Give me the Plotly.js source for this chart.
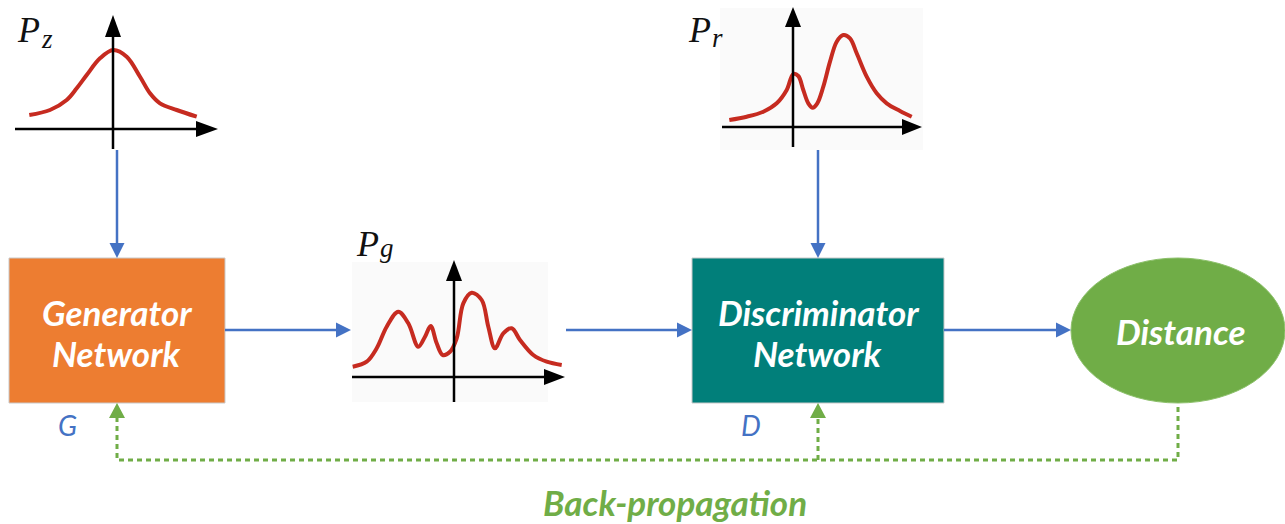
<!DOCTYPE html>
<html><head><meta charset="utf-8">
<script src="https://cdn.plot.ly/plotly-3.0.1.min.js"></script>
<style>html,body{margin:0;padding:0;background:#fff}#chart{width:1285px;height:524px}</style>
</head><body><div id="chart"></div><script>
// ---- data: curve samples (local units: x right of vertical axis, y above horizontal axis)
const pzX = [-83.7, -63, -46.3, -36.3, -26.3, -13, 0.3, 13.7, 27, 37, 47, 63.7, 83.7];
const pzY = [14, 19, 29, 40.7, 54, 70.7, 79, 72.3, 52.3, 35.7, 25.7, 19, 12.3];
const prX = [-63.7, -46.3, -29.7, -16.3, -6.3, 0.3, 5.3, 10.3, 15.3, 19.7, 24.3, 30.3, 37, 43.7, 50.3, 57, 63.7, 73.7, 83.7, 93.7, 107, 118.7];
const prY = [7, 10.3, 15.3, 23.7, 37, 53, 51, 37, 23.7, 19.3, 23.7, 40.3, 65.3, 85.3, 92, 88.7, 73.7, 50.3, 33.7, 23.7, 16, 10.3];
const pgX = [-101.3, -87.3, -77.3, -67.3, -55.7, -45.7, -35.7, -29, -23.3, -17.3, -11.3, -4, 2.7, 9.3, 17.7, 27.7, 34.3, 41, 49.3, 57.7, 66, 79.3, 92.7, 107.7];
const pgY = [10.3, 15.3, 28.7, 50.3, 65.3, 53.7, 30.3, 40.3, 51, 33.7, 22, 25.3, 38.7, 73.7, 84.3, 77, 50.3, 28.7, 43.7, 48.7, 37, 22, 15.3, 12];
const boxLabels = ["Generator", "Network", "Discriminator", "Network"];
const nodeLabels = ["Distance", "G", "D", "Back-propagation"];
const distNames = ["P", "z", "r", "g"];

// ---- layout helpers
const W = 1285, H = 524;
const ORANGE = '#ED7D31', TEAL = '#017F7A', GREEN = '#70AD47', BLUE = '#4472C4', RED = '#C62B20';
const SANS = 'Lato, "Open Sans", sans-serif';
const SERIF = '"Liberation Serif", "DejaVu Serif", serif';

function tri(tx, ty, dir, len, hw) {
  if (dir === 'right') return `M${tx},${ty} L${tx-len},${ty-hw} L${tx-len},${ty+hw} Z`;
  if (dir === 'down') return `M${tx},${ty} L${tx-hw},${ty-len} L${tx+hw},${ty-len} Z`;
  if (dir === 'up') return `M${tx},${ty} L${tx-hw},${ty+len} L${tx+hw},${ty+len} Z`;
}
// local mini plots: origin pixel + local box
const minis = [
  {id: 2, ox: 113, oy: 129, lx: [-100, 112], ly: [-25, 120], hx: [-98, 105], vy: [-20, 114], ah: 22, aw: 8, bg: null},
  {id: 3, ox: 793, oy: 127, lx: [-75, 135], ly: [-25, 122], hx: [-71, 129], vy: [-20, 120], ah: 20, aw: 8, bg: [-73, 130, -23, 119]},
  {id: 4, ox: 454, oy: 377, lx: [-105, 115], ly: [-28, 120], hx: [-102, 111], vy: [-25, 117], ah: 21, aw: 8, bg: [-102, 94, -25, 115]}
];
const curves = [[pzX, pzY], [prX, prY], [pgX, pgY]];

const layout = {
  width: W, height: H, margin: {l: 0, r: 0, t: 0, b: 0},
  paper_bgcolor: '#fff', plot_bgcolor: 'rgba(0,0,0,0)', showlegend: false,
  xaxis: {range: [0, W], domain: [0, 1], visible: false, fixedrange: true},
  yaxis: {range: [H, 0], domain: [0, 1], visible: false, fixedrange: true},
  shapes: [], annotations: []
};
const data = [];

minis.forEach((m, i) => {
  const xa = 'xaxis' + m.id, ya = 'yaxis' + m.id;
  layout[xa] = {domain: [(m.ox + m.lx[0]) / W, (m.ox + m.lx[1]) / W], range: m.lx, visible: false, anchor: 'y' + m.id, fixedrange: true};
  layout[ya] = {domain: [1 - (m.oy - m.ly[0]) / H, 1 - (m.oy - m.ly[1]) / H], range: m.ly, visible: false, anchor: 'x' + m.id, fixedrange: true};
  const xr = 'x' + m.id, yr = 'y' + m.id;
  if (m.bg) layout.shapes.push({type: 'rect', xref: xr, yref: yr, x0: m.bg[0], x1: m.bg[1], y0: m.bg[2], y1: m.bg[3], fillcolor: '#FAFAFA', line: {width: 0}, layer: 'below'});
  layout.shapes.push({type: 'line', xref: xr, yref: yr, x0: m.hx[0], x1: m.hx[1] - m.ah, y0: 0, y1: 0, line: {color: '#000', width: 2.5}});
  layout.shapes.push({type: 'line', xref: xr, yref: yr, x0: 0, x1: 0, y0: m.vy[0], y1: m.vy[1] - m.ah, line: {color: '#000', width: 2.5}});
  layout.shapes.push({type: 'path', xref: xr, yref: yr, path: `M${m.hx[1]},0 L${m.hx[1]-m.ah},${m.aw} L${m.hx[1]-m.ah},${-m.aw} Z`, fillcolor: '#000', line: {width: 0}});
  layout.shapes.push({type: 'path', xref: xr, yref: yr, path: `M0,${m.vy[1]} L${-m.aw},${m.vy[1]-m.ah} L${m.aw},${m.vy[1]-m.ah} Z`, fillcolor: '#000', line: {width: 0}});
  data.push({x: curves[i][0], y: curves[i][1], xaxis: xr, yaxis: yr, mode: 'lines', hoverinfo: 'skip',
    line: {color: RED, width: 4, shape: 'spline', smoothing: 1}});
});
data.push({x: [0], y: [0], mode: 'markers', marker: {opacity: 0}, hoverinfo: 'skip'});

const S = layout.shapes, A = layout.annotations;
// boxes
S.push({type: 'rect', x0: 9, x1: 225, y0: 258, y1: 403, fillcolor: ORANGE, line: {color: '#C9C9C9', width: 1}});
S.push({type: 'rect', x0: 692, x1: 944, y0: 258, y1: 403, fillcolor: TEAL, line: {color: '#C9C9C9', width: 1}});
S.push({type: 'circle', x0: 1071, x1: 1285, y0: 258, y1: 403, fillcolor: GREEN, line: {color: '#8CC06A', width: 1}});
// blue arrows
const blue = [
  {x0: 117, y0: 150, x1: 117, y1: 258, dir: 'down'},
  {x0: 225, y0: 330, x1: 351, y1: 330, dir: 'right'},
  {x0: 566, y0: 330, x1: 692, y1: 330, dir: 'right'},
  {x0: 818, y0: 150, x1: 818, y1: 258, dir: 'down'},
  {x0: 944, y0: 330, x1: 1071, y1: 330, dir: 'right'}
];
blue.forEach(b => {
  const ex = b.dir === 'right' ? b.x1 - 14 : b.x1, ey = b.dir === 'down' ? b.y1 - 14 : b.y1;
  S.push({type: 'line', x0: b.x0, y0: b.y0, x1: ex, y1: ey, line: {color: BLUE, width: 2.5}});
  S.push({type: 'path', path: tri(b.x1, b.y1, b.dir, 15, 7.5), fillcolor: BLUE, line: {width: 0}});
});
// green dotted feedback
const dash = '5px,4px';
S.push({type: 'path', path: 'M117,417 L117,460 L1178,460 L1178,403', line: {color: GREEN, width: 3, dash: dash}});
S.push({type: 'line', x0: 818, y0: 460, x1: 818, y1: 417, line: {color: GREEN, width: 3, dash: dash}});
S.push({type: 'path', path: tri(117, 403, 'up', 15, 8), fillcolor: GREEN, line: {width: 0}});
S.push({type: 'path', path: tri(818, 403, 'up', 15, 8), fillcolor: GREEN, line: {width: 0}});

function txt(x, y, t, size, color, bold, italic, fam, xanchor) {
  let s = t;
  if (italic) s = '<i>' + s + '</i>';
  if (bold) s = '<b>' + s + '</b>';
  A.push({x: x, y: y, text: s, showarrow: false, xanchor: xanchor || 'center', yanchor: 'middle', font: {size: size, color: color, family: fam || SANS}});
}
txt(117, 312, boxLabels[0], 35, '#fff', true, true);
txt(117, 353, boxLabels[1], 35, '#fff', true, true);
txt(818, 312, boxLabels[2], 35, '#fff', true, true);
txt(818, 353, boxLabels[3], 35, '#fff', true, true);
txt(1180, 331, nodeLabels[0], 35, '#fff', true, true);
txt(67, 425, nodeLabels[1], 28, BLUE, false, true);
txt(751, 425, nodeLabels[2], 28, BLUE, false, true);
txt(675, 502, nodeLabels[3], 35, GREEN, true, true);
// distribution labels: P with italic subscript
txt(15, 30, distNames[0], 36, '#111', false, true, SERIF, 'left');
txt(39, 38.5, distNames[1], 27, '#111', false, true, SERIF, 'left');
txt(686, 30, distNames[0], 36, '#111', false, true, SERIF, 'left');
txt(710, 38, distNames[2], 27, '#111', false, true, SERIF, 'left');
txt(354, 244, distNames[0], 36, '#111', false, true, SERIF, 'left');
txt(378, 248, distNames[3], 27, '#111', false, true, SERIF, 'left');

Plotly.newPlot('chart', data, layout, {staticPlot: true, displayModeBar: false});
</script></body></html>
